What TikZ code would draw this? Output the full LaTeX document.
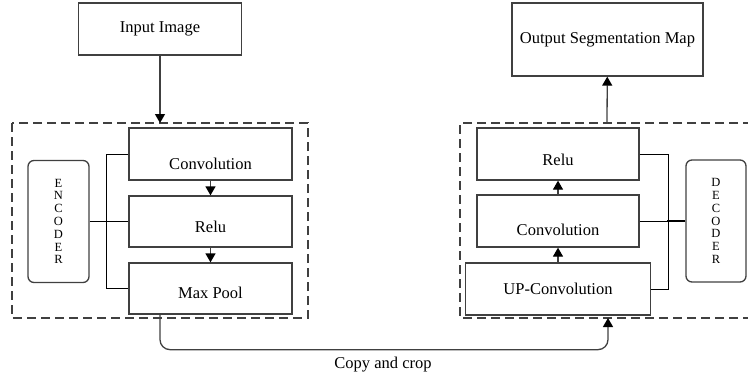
\documentclass[tikz,border=0pt]{standalone}
\usepackage{fontspec}
\setmainfont{Liberation Serif}
\usetikzlibrary{arrows.meta}
\colorlet{ln}{black!75}

\begin{document}
\begin{tikzpicture}[x=1pt, y=-1pt, line width=1pt,
  font=\fontsize{16.5}{19}\selectfont,
  blk/.style={draw=ln, line width=1.3pt, minimum height=52pt, inner sep=0pt},
  low/.style={text height=#1, text depth=0pt},
  side/.style={draw=ln, line width=1.3pt, rounded corners=6pt, minimum width=61pt,
    minimum height=122pt, align=center, font=\fontsize{12.5}{12.8}\selectfont},
  dashbox/.style={draw=ln, line width=1.3pt, dash pattern=on 9pt off 5pt},
  arr/.style={draw=ln, line width=1.3pt,
    -{Triangle[length=9pt, width=10pt, color=black]}}]
  \useasboundingbox (0,0) rectangle (748,376);

  \node[blk, minimum width=163pt] (in) at (160,29) {Input Image};
  \node[blk, minimum width=191pt, minimum height=73pt] (out) at (607.5,39.5)
    {Output Segmentation Map};

  % encoder
  \draw[dashbox] (12,123) rectangle (308,318);
  \node[blk, minimum width=163pt, low=30pt] (conv1) at (210.5,154) {Convolution};
  \node[blk, minimum width=163pt, minimum height=51pt, low=21pt] (relu1) at (210.5,221.5) {Relu};
  \node[blk, minimum width=163pt, minimum height=51pt, low=19pt] (pool) at (210.5,288.5) {Max Pool};
  \node[side] (enc) at (58.5,221.5) {E\\N\\C\\O\\D\\E\\R};

  % decoder, open on the right
  \draw[dashbox] (752,123) -- (460,123) -- (460,318) -- (752,318);
  \node[blk, minimum width=162pt, low=22pt] (relu2) at (558,154) {Relu};
  \node[blk, minimum width=162pt, low=28pt] (conv2) at (558,221) {Convolution};
  \node[blk, minimum width=185pt] (up) at (558,289) {UP-Convolution};
  \node[side, minimum width=60pt] (dec) at (716,221) {D\\E\\C\\O\\D\\E\\R};

  \coordinate (encin) at (160,123);
  \coordinate (decout) at (607,123);
  \coordinate (decin) at (608,318);

  \draw[arr] (in) -- (encin);
  \draw[arr] (conv1) -- (relu1);
  \draw[arr] (relu1) -- (pool);
  \draw[arr] (up) -- (conv2);
  \draw[arr] (conv2) -- (relu2);
  \draw[arr] (decout) -- (out);

  % brackets to the side labels
  \draw (conv1.west) -- ++(-22,0) |- (pool.west);
  \draw (enc.east) -- (relu1.west);
  \draw (relu2.east) -- ++(29,0) |- (up.east);
  \draw (conv2.east) -- (dec.west);
  \draw[line width=2pt] (dec.west) -- ++(-18,0);

  % skip connection
  \draw[arr, rounded corners=10pt] (pool.south -| in) -- ++(0,35) -| (decin);
  \node (copy) at (383,365) {Copy and crop};
\end{tikzpicture}
\end{document}
